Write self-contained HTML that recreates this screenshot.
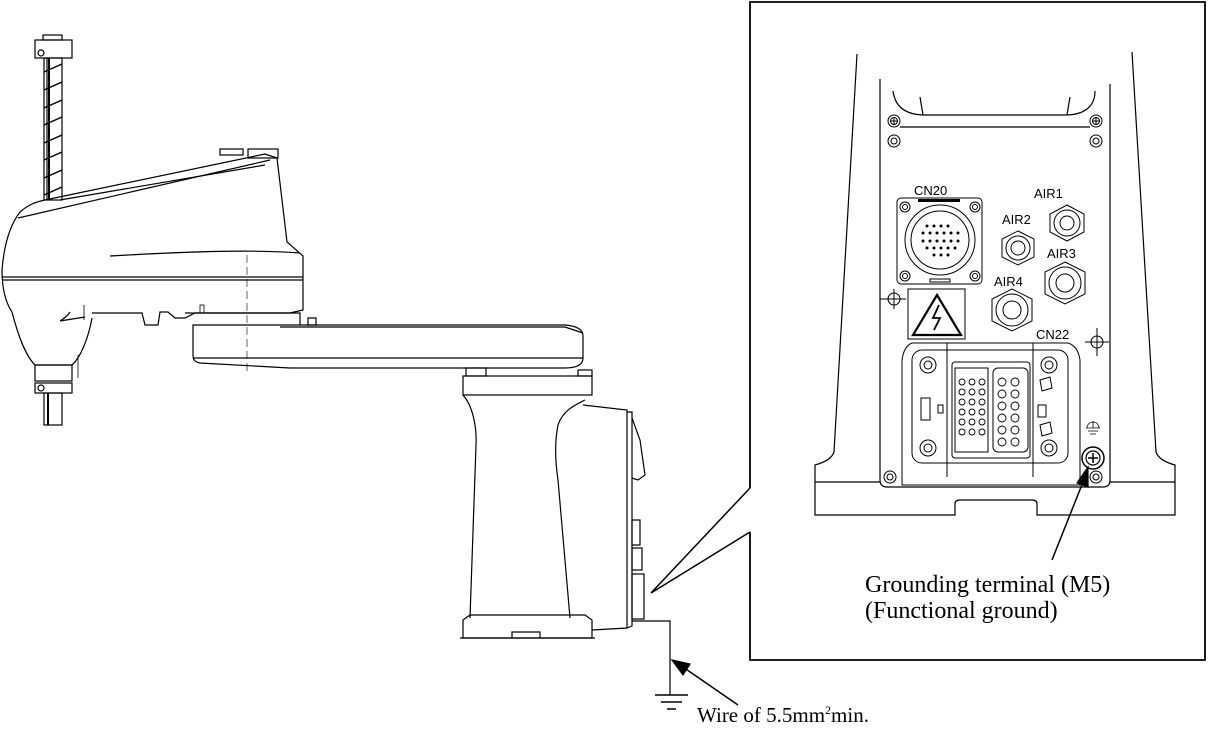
<!DOCTYPE html>
<html><head><style>
html,body{margin:0;padding:0;background:#fff;}
svg{display:block;}
.s{font-family:"Liberation Sans",sans-serif;font-size:13px;fill:#000;}
.t{font-family:"Liberation Serif",serif;font-size:21px;fill:#000;}
.g{font-family:"Liberation Serif",serif;font-size:24px;fill:#000;}
</style></head><body>
<svg width="1208" height="729" viewBox="0 0 1208 729" xmlns="http://www.w3.org/2000/svg" fill="none" stroke="#000" stroke-width="1.2">
<!-- ===== Robot ===== -->
<rect x="43" y="35" width="19" height="5"/>
<rect x="35" y="40" width="37" height="18"/>
<circle cx="41" cy="53" r="3"/>
<rect x="44" y="58" width="18" height="142"/>
<line x1="47" y1="58" x2="47" y2="200"/>
<line x1="49" y1="58" x2="49" y2="200" stroke-width="2"/>
<g stroke-width="1.5">
<line x1="44" y1="72" x2="62" y2="64"/><line x1="44" y1="90" x2="62" y2="82"/><line x1="44" y1="108" x2="62" y2="100"/>
<line x1="44" y1="125" x2="62" y2="117"/><line x1="44" y1="143" x2="62" y2="135"/><line x1="44" y1="160" x2="62" y2="152"/>
<line x1="44" y1="178" x2="62" y2="170"/><line x1="44" y1="195" x2="62" y2="187"/>
</g>
<path d="M12,312 C4,300 2,285 2,270 C4,245 10,225 20,212 C28,205 35,202 45,200 L265,154 L277,158 L287,242 L303,256 L303,310 L290,313 L195,313 L185,318 L175,318 L168,312 L160,312 L158,325 L145,325 L142,313 L92,313"/>
<path d="M18,218 L270,160"/>
<path d="M60,200 L265,165"/>
<line x1="2" y1="277" x2="303" y2="277"/><line x1="2" y1="280" x2="303" y2="280"/>
<path d="M110,256 C180,252 250,249 300,253"/>
<rect x="220" y="149" width="23" height="6"/>
<rect x="248" y="149" width="30" height="9"/>
<line x1="247" y1="255" x2="247" y2="372" stroke-dasharray="8,4" stroke-width="0.6"/>
<path d="M12,312 C18,335 25,355 35,365 L72,365 C80,358 88,340 92,318"/>
<path d="M60,321 L85,317 M60,321 C65,318 68,315 70,312"/>
<line x1="84" y1="305" x2="84" y2="320" stroke-width="0.8"/>
<line x1="78" y1="355" x2="78" y2="378" stroke-width="0.8"/>
<rect x="35" y="365" width="37" height="16"/>
<rect x="35" y="383" width="37" height="10"/>
<circle cx="41" cy="388" r="3"/>
<rect x="44" y="393" width="18" height="32"/>
<line x1="48" y1="393" x2="48" y2="425" stroke-width="2"/>
<path d="M185,313 L300,313 L300,325"/>
<rect x="200" y="305" width="4" height="8" stroke-width="0.8"/>
<path d="M193,325 L565,325 C578,326 583,330 583,336 L583,358 C583,364 578,368 565,368 L290,368 L200,363 C195,362 193,360 193,355 Z"/>
<path d="M280,327 L565,327 L583,333"/>
<line x1="193" y1="358" x2="583" y2="358"/>
<rect x="308" y="318" width="8" height="7"/>
<rect x="466" y="368" width="20" height="8"/>
<rect x="578" y="370" width="14" height="6"/>
<rect x="463" y="376" width="129" height="19"/>
<path d="M463,395 C472,405 477,425 476,445 L470,618"/>
<path d="M585,400 C575,405 563,410 558,425 C555,440 555,460 558,480 L570,618"/>
<path d="M583,405 L627,410 L627,628 L592,630"/>
<path d="M627,412 L632,412 L632,626 L627,628"/>
<path d="M632,418 L640,440 L645,475 L638,480 L632,478" />
<rect x="632" y="520" width="8" height="25"/>
<rect x="632" y="548" width="10" height="22"/>
<rect x="632" y="574" width="12" height="45"/>
<path d="M463,638 L463,620 L470,615 L585,615 L592,620 L592,638 Z"/>
<path d="M512,638 L512,632 L540,632 L540,638"/>
<line x1="460" y1="638" x2="595" y2="638"/>
<!-- ground wire -->
<path d="M632,621 L670,621 L670,695"/>
<line x1="655" y1="695" x2="688" y2="695" stroke-width="1.5"/>
<line x1="661" y1="702" x2="682" y2="702" stroke-width="1.5"/>
<line x1="667" y1="709" x2="676" y2="709" stroke-width="1.5"/>
<line x1="738" y1="705" x2="680" y2="665" stroke-width="1.5"/>
<polygon points="672,660 690,664 683,675" fill="#000"/>
<path d="M750,488 L651,593 L750,532" stroke-width="1.5"/>
<path d="M750,488 L750,2 L1205,2 L1205,660 L750,660 L750,532" stroke-width="1.8"/>
<!-- ===== detail panel ===== -->
<path d="M857,54 L834,452 C832,458 826,462 815,465 L815,515 L955,515 L955,504 Q955,500 960,500 L1032,500 Q1037,500 1037,504 L1037,515 L1175,515 L1175,465 C1164,462 1158,458 1156,452 L1132,52"/>
<line x1="815" y1="482" x2="880" y2="482"/><line x1="1110" y1="482" x2="1175" y2="482"/>
<path d="M880,79 L880,480 Q880,487 887,487 L1103,487 Q1110,487 1110,480 L1110,84"/>
<path d="M893,91 C895,106 905,115 925,115 L1065,115 C1085,115 1095,106 1095,91"/>
<line x1="920" y1="97" x2="923" y2="115"/><line x1="1070" y1="97" x2="1067" y2="115"/>
<line x1="900" y1="127" x2="1090" y2="127"/>
<g stroke-width="1">
<circle cx="894" cy="121" r="6"/><circle cx="894" cy="121" r="3.5"/><path d="M890,121 h8 M894,117 v8"/>
<circle cx="1096" cy="121" r="6"/><circle cx="1096" cy="121" r="3.5"/><path d="M1092,121 h8 M1096,117 v8"/>
<circle cx="894" cy="141" r="6"/><circle cx="894" cy="141" r="3"/>
<circle cx="1096" cy="141" r="6"/><circle cx="1096" cy="141" r="3"/>
<!-- CN20 -->
<rect x="897" y="198" width="85" height="86" rx="4"/>
<circle cx="905" cy="207" r="5"/><circle cx="975" cy="207" r="5"/><circle cx="905" cy="276" r="5"/><circle cx="975" cy="276" r="5"/>
<circle cx="905" cy="207" r="2.5"/><circle cx="975" cy="207" r="2.5"/><circle cx="905" cy="276" r="2.5"/><circle cx="975" cy="276" r="2.5"/>
<circle cx="940" cy="240" r="35"/><circle cx="940" cy="240" r="29"/>
<rect x="930" y="279" width="20" height="3"/>
<!-- AIR fittings -->
<polygon points="1067,205 1084,214 1084,232 1067,241 1050,232 1050,214"/><circle cx="1067" cy="223" r="13"/><circle cx="1067" cy="223" r="7"/>
<polygon points="1018,231 1034,239 1034,257 1018,265 1002,257 1002,239"/><circle cx="1018" cy="248" r="12"/><circle cx="1018" cy="248" r="7"/>
<polygon points="1065,262 1085,272 1085,294 1065,304 1045,294 1045,272"/><circle cx="1065" cy="283" r="16"/><circle cx="1065" cy="283" r="9"/>
<polygon points="1012,289 1032,299 1032,321 1012,331 992,321 992,299"/><circle cx="1012" cy="310" r="16"/><circle cx="1012" cy="310" r="9"/>
<circle cx="894" cy="299" r="6"/><path d="M880,299 h26 M894,289 v20 M890,299 h8"/>
<circle cx="1097" cy="342" r="6"/><path d="M1085,342 h24 M1097,328 v28"/>
<rect x="908" y="289" width="57" height="50"/>
<polygon points="937,295 961,335 913,335" stroke-width="2.2"/>
<path d="M939,305 L933,318 L940,318 L934,330" stroke-width="1.8"/>
<!-- CN22 -->
<path d="M912,343 L1068,343 Q1078,346 1080,360 L1080,485 L902,485 L902,360 Q904,346 912,343 Z"/>
<rect x="912" y="350" width="156" height="113" rx="10"/>
<line x1="947" y1="343" x2="947" y2="477"/><line x1="1033" y1="343" x2="1033" y2="477"/>
<circle cx="928" cy="365" r="8"/><circle cx="928" cy="365" r="4"/>
<circle cx="928" cy="448" r="8"/><circle cx="928" cy="448" r="4"/>
<circle cx="1049" cy="365" r="8"/><circle cx="1049" cy="365" r="4"/>
<circle cx="1049" cy="448" r="8"/><circle cx="1049" cy="448" r="4"/>
<circle cx="890" cy="477" r="6"/><circle cx="890" cy="477" r="3"/>
<circle cx="1096" cy="477" r="6"/><circle cx="1096" cy="477" r="3"/>
<rect x="952" y="362" width="78" height="96" rx="3"/>
<rect x="955" y="368" width="33" height="84"/>
<rect x="993" y="368" width="35" height="84" rx="5"/>
<rect x="921" y="398" width="9" height="22"/>
<rect x="938" y="405" width="5" height="8"/>
<polygon points="1040,380 1050,377 1052,388 1042,391"/>
<polygon points="1040,425 1050,422 1052,433 1042,436"/>
<rect x="1038" y="405" width="8" height="12"/>
</g>
<g stroke-width="0.9">
<circle cx="962" cy="382" r="3"/><circle cx="972" cy="382" r="3"/><circle cx="982" cy="382" r="3"/>
<circle cx="962" cy="392" r="3"/><circle cx="972" cy="392" r="3"/><circle cx="982" cy="392" r="3"/>
<circle cx="962" cy="402" r="3"/><circle cx="972" cy="402" r="3"/><circle cx="982" cy="402" r="3"/>
<circle cx="962" cy="412" r="3"/><circle cx="972" cy="412" r="3"/><circle cx="982" cy="412" r="3"/>
<circle cx="962" cy="422" r="3"/><circle cx="972" cy="422" r="3"/><circle cx="982" cy="422" r="3"/>
<circle cx="962" cy="432" r="3"/><circle cx="972" cy="432" r="3"/><circle cx="982" cy="432" r="3"/>
<circle cx="1002" cy="382" r="4"/><circle cx="1015" cy="382" r="4"/>
<circle cx="1002" cy="394" r="4"/><circle cx="1015" cy="394" r="4"/>
<circle cx="1002" cy="406" r="4"/><circle cx="1015" cy="406" r="4"/>
<circle cx="1002" cy="418" r="4"/><circle cx="1015" cy="418" r="4"/>
<circle cx="1002" cy="430" r="4"/><circle cx="1015" cy="430" r="4"/>
<circle cx="1002" cy="442" r="4"/><circle cx="1015" cy="442" r="4"/>
</g>
<g fill="#000" stroke="none">
<circle cx="927" cy="226" r="1.5"/><circle cx="934" cy="226" r="1.5"/><circle cx="941" cy="226" r="1.5"/><circle cx="948" cy="226" r="1.5"/>
<circle cx="923" cy="233" r="1.5"/><circle cx="930" cy="233" r="1.5"/><circle cx="937" cy="233" r="1.5"/><circle cx="944" cy="233" r="1.5"/><circle cx="951" cy="233" r="1.5"/><circle cx="958" cy="233" r="1.5"/>
<circle cx="923" cy="241" r="1.5"/><circle cx="930" cy="241" r="1.5"/><circle cx="937" cy="241" r="1.5"/><circle cx="944" cy="241" r="1.5"/><circle cx="951" cy="241" r="1.5"/><circle cx="958" cy="241" r="1.5"/>
<circle cx="927" cy="248" r="1.5"/><circle cx="934" cy="248" r="1.5"/><circle cx="941" cy="248" r="1.5"/><circle cx="948" cy="248" r="1.5"/><circle cx="955" cy="248" r="1.5"/>
<circle cx="934" cy="255" r="1.5"/><circle cx="941" cy="255" r="1.5"/><circle cx="948" cy="255" r="1.5"/>
<rect x="918" y="199" width="42" height="3"/>
</g>
<!-- ground terminal -->
<circle cx="1093" cy="458" r="11" stroke-width="1.5"/><circle cx="1093" cy="458" r="7"/><path d="M1088,458 h10 M1093,453 v10" stroke-width="1.5"/>
<path d="M1086,428 h14 M1088,431 h10 M1090,434 h6 M1093,421 v7 M1087,428 A6,6 0 0,1 1099,428" stroke-width="0.8"/>
<line x1="1052" y1="560" x2="1083" y2="482" stroke-width="1.5"/>
<polygon points="1088,467 1088,487 1077,483" fill="#000"/>
<g stroke="none">
<text class="s" x="914" y="195">CN20</text>
<text class="s" x="1034" y="198">AIR1</text>
<text class="s" x="1002" y="224">AIR2</text>
<text class="s" x="1047" y="258">AIR3</text>
<text class="s" x="994" y="286">AIR4</text>
<text class="s" x="1036" y="339">CN22</text>
<text class="g" x="865" y="592">Grounding terminal (M5)</text>
<text class="g" x="865" y="618">(Functional ground)</text>
<text class="t" x="697" y="722">Wire of 5.5mm<tspan font-size="12" dy="-8">2</tspan><tspan dy="8">min.</tspan></text>
</g>
</svg>
</body></html>
